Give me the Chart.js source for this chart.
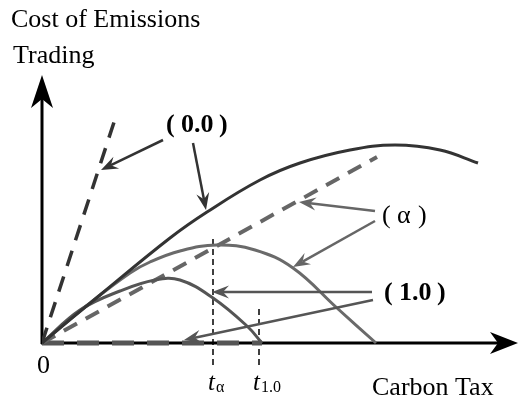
<!DOCTYPE html>
<html><head><meta charset="utf-8">
<script src="https://cdn.jsdelivr.net/npm/chart.js@4"></script>
<style>html,body{margin:0;padding:0;background:#fff}#wrap{width:521px;height:398px;position:relative}</style>
</head><body><div id="wrap"><canvas id="c"></canvas></div>
<script>
// ---- Data (abstract units: carbon tax on x, cost of emissions trading on y) ----
const zeroCurveX  = [0, 1.16, 2.56, 3.3, 4.36, 5.16, 6.16, 7.06, 7.96, 8.72];
const zeroCurveY  = [0, 0.96, 2.1, 2.62, 3.26, 3.6, 3.86, 3.96, 3.86, 3.6];
const alphaCurveX = [0, 0.96, 1.76, 2.16, 2.76, 3.5, 4.26, 5.02, 5.9, 6.68];
const alphaCurveY = [0, 0.8, 1.4, 1.62, 1.84, 1.96, 1.86, 1.5, 0.7, 0];
const oneCurveX   = [0, 0.76, 1.56, 2.26, 2.76, 3.42, 4.1, 4.4];
const oneCurveY   = [0, 0.66, 1.04, 1.26, 1.26, 0.9, 0.34, 0];
const zeroDashX   = [0, 1.5];
const zeroDashY   = [0, 4.6];
const alphaDashX  = [0, 6.7];
const alphaDashY  = [0, 3.72];
const oneDashX    = [0, 4.4];
const oneDashY    = [0, 0];
const tAlpha = 3.42, tOne = 4.34;
const tLineY = [-0.44, 2.16];
const tOneLineY = [-0.44, 0.7];

const pts = (xs, ys) => xs.map((x, i) => ({x, y: ys[i]}));

// annotation arrows (from label to curve), data units
const annotationArrows = [
  {from:[2.42,4.06], to:[1.18,3.46], color:'#333'},
  {from:[3.02,4.0],  to:[3.28,2.66], color:'#333'},
  {from:[6.66,2.64], to:[5.14,2.82], color:'#666'},
  {from:[6.66,2.44], to:[5.02,1.52], color:'#666'},
  {from:[6.6,1.02],  to:[3.4,1.02],  color:'#555'},
  {from:[6.62,0.86], to:[2.84,0.06], color:'#555'}
];

const serif = '"Liberation Serif","Times New Roman",serif';

const overlay = {
  id: 'overlay',
  beforeDatasetsDraw(chart) {
    const {ctx, scales:{x, y}} = chart;
    const ox = x.getPixelForValue(0), oy = y.getPixelForValue(0);
    const yTop = y.getPixelForValue(5.36), xEnd = x.getPixelForValue(9.52);
    ctx.save();
    ctx.strokeStyle = '#000'; ctx.fillStyle = '#000'; ctx.lineWidth = 3;
    ctx.beginPath(); ctx.moveTo(ox, oy + 1); ctx.lineTo(ox, yTop + 20); ctx.stroke();
    ctx.beginPath(); ctx.moveTo(ox - 1, oy); ctx.lineTo(xEnd - 18, oy); ctx.stroke();
    ctx.beginPath(); ctx.moveTo(ox, yTop); ctx.lineTo(ox + 11, yTop + 33); ctx.lineTo(ox, yTop + 24); ctx.lineTo(ox - 11, yTop + 33); ctx.closePath(); ctx.fill();
    ctx.beginPath(); ctx.moveTo(xEnd, oy); ctx.lineTo(xEnd - 28, oy - 11); ctx.lineTo(xEnd - 20, oy); ctx.lineTo(xEnd - 28, oy + 11); ctx.closePath(); ctx.fill();
    ctx.restore();
  },
  afterDatasetsDraw(chart) {
    const {ctx, scales:{x, y}} = chart;
    const X = v => x.getPixelForValue(v), Y = v => y.getPixelForValue(v);
    ctx.save();
    annotationArrows.forEach(a => {
      const x1 = X(a.from[0]), y1 = Y(a.from[1]), x2 = X(a.to[0]), y2 = Y(a.to[1]);
      const ang = Math.atan2(y2 - y1, x2 - x1);
      const L = 17, W = 6.5, N = 11;
      const ca = Math.cos(ang), sa = Math.sin(ang);
      ctx.strokeStyle = a.color; ctx.fillStyle = a.color; ctx.lineWidth = 2.5;
      ctx.beginPath(); ctx.moveTo(x1, y1); ctx.lineTo(x2 - N * ca, y2 - N * sa); ctx.stroke();
      ctx.beginPath();
      ctx.moveTo(x2, y2);
      ctx.lineTo(x2 - L * ca - W * sa, y2 - L * sa + W * ca);
      ctx.lineTo(x2 - N * ca, y2 - N * sa);
      ctx.lineTo(x2 - L * ca + W * sa, y2 - L * sa - W * ca);
      ctx.closePath(); ctx.fill();
    });
    ctx.fillStyle = '#000'; ctx.textBaseline = 'alphabetic'; ctx.textAlign = 'left';
    ctx.font = '26px ' + serif;
    ctx.fillText('Cost of Emissions', X(-0.62), Y(6.32));
    ctx.fillText('Trading', X(-0.58), Y(5.6));
    ctx.fillText('Carbon Tax', X(6.6), Y(-1.04));
    ctx.textAlign = 'center';
    ctx.fillText('0', X(0.03), Y(-0.6));
    ctx.textAlign = 'left';
    const lab = (parts, yv, font) => {
      ctx.font = font;
      parts.forEach(p => ctx.fillText(p[0], X(p[1]), Y(yv)));
    };
    lab([['(', 2.48], ['0.0', 2.78], [')', 3.54]], 4.22, 'bold 26px ' + serif);
    lab([['(', 6.8], ['\u03b1', 7.1], [')', 7.52]], 2.4, '26px ' + serif);
    lab([['(', 6.84], ['1.0', 7.14], [')', 7.9]], 0.86, 'bold 26px ' + serif);
    // t labels with subscripts
    const tlab = (xv, sub) => {
      ctx.font = 'italic 25px ' + serif;
      const w = ctx.measureText('t').width;
      ctx.fillText('t', X(xv), Y(-0.94));
      ctx.font = '16px ' + serif;
      ctx.fillText(sub, X(xv) + w + 1, Y(-0.98));
    };
    tlab(3.32, '\u03b1');
    tlab(4.22, '1.0');
    ctx.restore();
  }
};

const curve = (xs, ys, color, w) => ({data: pts(xs, ys), borderColor: color, borderWidth: w, showLine: true, pointRadius: 0, tension: 0.4, fill: false});
const dashed = (xs, ys, color, w, dash) => ({data: pts(xs, ys), borderColor: color, borderWidth: w, showLine: true, pointRadius: 0, borderDash: dash, tension: 0, fill: false, borderCapStyle: 'butt'});

new Chart(document.getElementById('c'), {
  type: 'scatter',
  data: {datasets: [
    curve(zeroCurveX, zeroCurveY, '#333', 3),
    dashed(zeroDashX, zeroDashY, '#333', 3.5, [16, 11]),
    curve(oneCurveX, oneCurveY, '#555', 3),
    curve(alphaCurveX, alphaCurveY, '#6a6a6a', 3),
    dashed(alphaDashX, alphaDashY, '#666', 4, [15, 10]),
    dashed(oneDashX, oneDashY, '#555', 5, [22, 13]),
    dashed([tAlpha, tAlpha], tLineY, '#000', 1.5, [6, 4]),
    dashed([tOne, tOne], tOneLineY, '#000', 1.5, [6, 4])
  ]},
  options: {
    responsive: true, maintainAspectRatio: false, animation: false,
    layout: {padding: {left: 42, right: 1, top: 0, bottom: 0}},
    scales: {
      x: {type: 'linear', min: 0, max: 9.56, display: false},
      y: {type: 'linear', min: -1.1, max: 6.86, display: false}
    },
    plugins: {legend: {display: false}, tooltip: {enabled: false}},
    events: []
  },
  plugins: [overlay]
});
</script>
</body></html>
